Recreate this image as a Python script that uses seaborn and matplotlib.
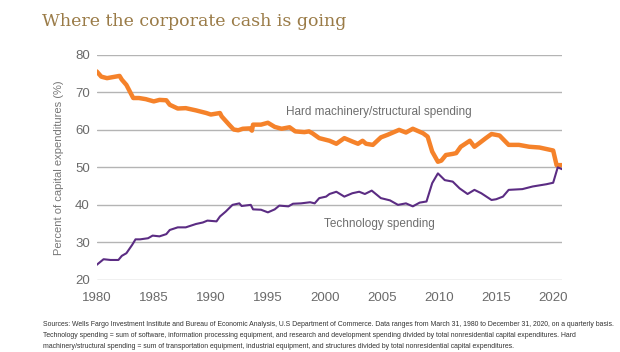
import seaborn as sns
import matplotlib.pyplot as plt
import pandas as pd

# values (percent of capital expenditures)
hard_years = [1980.0, 1980.4, 1980.9, 1982.0, 1982.2, 1982.6, 1983.2, 1983.7, 1984.3, 1985.0,
              1985.5, 1986.1, 1986.4, 1987.1, 1987.8, 1988.7, 1989.6, 1990.0, 1990.8, 1990.95,
              1991.6, 1992.0, 1992.4, 1992.8, 1993.4, 1993.6, 1993.7, 1994.4, 1995.0, 1995.6,
              1996.2, 1996.9, 1997.4, 1998.2, 1998.6, 1998.9, 1999.5, 2000.4, 2001.0, 2001.7,
              2002.4, 2002.9, 2003.3, 2003.6, 2004.2, 2004.9, 2005.5, 2006.5, 2007.1, 2007.7,
              2008.6, 2009.0, 2009.4, 2009.9, 2010.2, 2010.6, 2011.2, 2011.5, 2011.9, 2012.7,
              2013.1, 2013.5, 2014.1, 2014.6, 2015.3, 2016.1, 2017.0, 2017.9, 2018.8, 2020.0,
              2020.3, 2020.8]
hard_vals = [75.6, 74.2, 73.8, 74.4, 73.4, 72.0, 68.5, 68.5, 68.2, 67.6,
             68.0, 67.9, 66.7, 65.7, 65.8, 65.2, 64.5, 64.1, 64.5, 63.6,
             61.4, 60.1, 59.9, 60.3, 60.4, 59.8, 61.4, 61.4, 61.9, 60.8,
             60.3, 60.7, 59.6, 59.4, 59.6, 59.1, 57.8, 57.1, 56.3, 57.8,
             56.9, 56.3, 57.1, 56.3, 56.0, 58.0, 58.7, 60.0, 59.3, 60.3,
             59.1, 58.2, 54.2, 51.5, 51.8, 53.3, 53.6, 53.8, 55.5, 57.1,
             55.5, 56.4, 57.8, 58.9, 58.5, 56.0, 56.0, 55.5, 55.3, 54.5,
             50.6, 50.6]

tech_years = [1980.0, 1980.6, 1981.2, 1981.9, 1982.2, 1982.6, 1983.1, 1983.4, 1983.8, 1984.5,
              1984.9, 1985.5, 1986.1, 1986.4, 1987.1, 1987.8, 1988.7, 1989.3, 1989.7, 1990.5,
              1990.8, 1991.3, 1991.9, 1992.5, 1992.7, 1993.5, 1993.7, 1994.4, 1995.0, 1995.6,
              1996.0, 1996.8, 1997.2, 1997.9, 1998.7, 1999.1, 1999.5, 2000.1, 2000.4, 2001.0,
              2001.7, 2002.4, 2003.0, 2003.5, 2004.1, 2004.9, 2005.7, 2006.4, 2007.1, 2007.7,
              2008.3, 2008.9, 2009.4, 2009.9, 2010.5, 2011.2, 2011.8, 2012.5, 2013.1, 2013.7,
              2014.6, 2015.0, 2015.6, 2016.1, 2017.3, 2018.2, 2019.4, 2020.0, 2020.4, 2020.8]
tech_vals = [24.0, 25.5, 25.3, 25.3, 26.4, 27.1, 29.3, 30.8, 30.8, 31.1,
             31.8, 31.6, 32.2, 33.3, 34.0, 34.0, 34.9, 35.3, 35.8, 35.6,
             36.9, 38.2, 40.0, 40.4, 39.7, 40.0, 38.8, 38.7, 38.0, 38.8,
             39.8, 39.6, 40.3, 40.4, 40.7, 40.4, 41.8, 42.2, 42.9, 43.5,
             42.2, 43.1, 43.5, 42.9, 43.8, 41.8, 41.2, 40.0, 40.4, 39.6,
             40.6, 40.9, 45.8, 48.4, 46.6, 46.2, 44.4, 42.9, 44.0, 43.1,
             41.3, 41.5, 42.2, 44.0, 44.2, 44.9, 45.5, 45.9, 50.0, 49.5]

year_ticks = [1980, 1985, 1990, 1995, 2000, 2005, 2010, 2015, 2020]
pct_ticks = [20, 30, 40, 50, 60, 70, 80]

hard = pd.DataFrame({'year': hard_years, 'pct': hard_vals})
tech = pd.DataFrame({'year': tech_years, 'pct': tech_vals})

sns.set_theme(style='white')
plt.rcParams['font.family'] = ['Liberation Sans', 'DejaVu Sans']

fig = plt.figure(figsize=(6.2, 3.52), dpi=100)
ax = fig.add_axes([0.156, 0.205, 0.75, 0.639])

sns.lineplot(data=hard, x='year', y='pct', color='#f5822a', linewidth=3.2, ax=ax)
sns.lineplot(data=tech, x='year', y='pct', color='#5b2c83', linewidth=1.5, ax=ax)

ax.set_xlim(1980, 2020.75)
ax.set_ylim(20, 80)
ax.set_xticks(year_ticks)
ax.set_yticks(pct_ticks)
ax.grid(axis='y', color='#b4b4b4', linewidth=1.0)
ax.set_axisbelow(True)
for s in ax.spines.values():
    s.set_visible(False)
ax.tick_params(axis='both', length=0, labelsize=9.5, labelcolor='#6a6a6a')
ax.tick_params(axis='x', pad=9)
ax.tick_params(axis='y', pad=5)
ax.set_xlabel('')
ax.set_ylabel('Percent of capital expenditures (%)', fontsize=8, color='#777777')
ax.yaxis.set_label_coords(-0.071, 0.5)

ax.text(1996.6, 64.8, 'Hard machinery/structural spending', fontsize=8.5, color='#6e6e6e', va='center')
ax.text(1999.9, 34.9, 'Technology spending', fontsize=8.5, color='#6e6e6e', va='center')

fig.text(0.068, 0.94, 'Where the corporate cash is going', family='DejaVu Serif',
         fontsize=12.5, color='#9a7b47', va='center')

notes = ['Sources: Wells Fargo Investment Institute and Bureau of Economic Analysis, U.S Department of Commerce. Data ranges from March 31, 1980 to December 31, 2020, on a quarterly basis.',
         'Technology spending = sum of software, information processing equipment, and research and development spending divided by total nonresidential capital expenditures. Hard',
         'machinery/structural spending = sum of transportation equipment, industrial equipment, and structures divided by total nonresidential capital expenditures.']
for i, line in enumerate(notes):
    fig.text(0.069, 1 - (325 + 10.5 * i) / 352, line, fontsize=4.95, color='#333333', va='center')

fig.savefig('out.png', dpi=100)
